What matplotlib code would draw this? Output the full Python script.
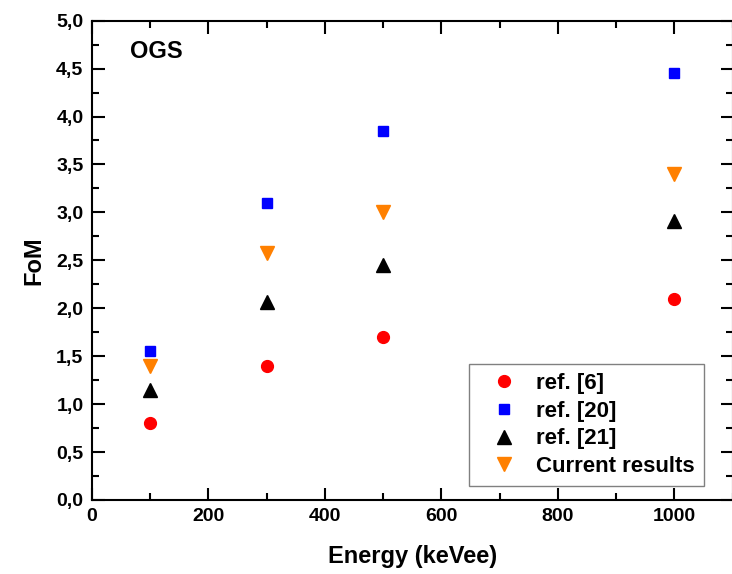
import matplotlib
matplotlib.use("Agg")
import matplotlib.pyplot as plt
from matplotlib.ticker import MultipleLocator, FuncFormatter

# Data
energy = [100, 300, 500, 1000]
ref6 = [0.80, 1.40, 1.70, 2.10]
ref20 = [1.55, 3.10, 3.85, 4.45]
ref21 = [1.15, 2.06, 2.45, 2.91]
current = [1.40, 2.58, 3.00, 3.40]

plt.rcParams["font.family"] = ["Liberation Sans", "DejaVu Sans"]
plt.rcParams["font.weight"] = "bold"

fig = plt.figure(figsize=(7.32, 5.74), dpi=100)
ax = fig.add_axes([0.1253, 0.129, 0.8757, 0.835])

ax.plot(energy, ref6, "o", color="#ff0000", ms=8.5, ls="none", label="ref. [6]")
ax.plot(energy, ref20, "s", color="#0000ff", ms=7.5, ls="none", label="ref. [20]")
ax.plot(energy, ref21, "^", color="black", ms=9.5, ls="none", label="ref. [21]")
ax.plot(energy, current, "v", color="#ff8000", ms=9.5, ls="none", label="Current results")

ax.set_xlim(0, 1100)
ax.set_ylim(0, 5)
ax.xaxis.set_major_locator(MultipleLocator(200))
ax.xaxis.set_minor_locator(MultipleLocator(100))
ax.yaxis.set_major_locator(MultipleLocator(0.5))
ax.yaxis.set_minor_locator(MultipleLocator(0.25))
ax.yaxis.set_major_formatter(FuncFormatter(lambda v, p: f"{v:.1f}".replace(".", ",")))

ax.tick_params(which="both", direction="in", top=True, right=True, width=1.5)
ax.tick_params(which="major", length=9, labelsize=14, pad=6)
ax.tick_params(which="minor", length=5)
for lab in ax.get_xticklabels() + ax.get_yticklabels():
    lab.set_fontweight("bold")
for sp in ax.spines.values():
    sp.set_linewidth(1.5)

ax.set_xlabel("Energy (keVee)", fontsize=17, fontweight="bold", labelpad=14)
ax.set_ylabel("FoM", fontsize=17, fontweight="bold", labelpad=8)

ax.text(65, 4.68, "OGS", fontsize=17, fontweight="bold", va="center")

# legend box in the lower right corner
leg = ax.legend(loc="lower right", bbox_to_anchor=(0.955, 0.029), borderaxespad=0,
                fontsize=16, fancybox=False, edgecolor="grey", framealpha=1,
                handletextpad=0.3, labelspacing=0.3, borderpad=0.4,
                handlelength=2.35)
leg.get_frame().set_linewidth(1.0)
for t in leg.get_texts():
    t.set_fontweight("bold")

fig.savefig("out.png", dpi=100, facecolor="white")
